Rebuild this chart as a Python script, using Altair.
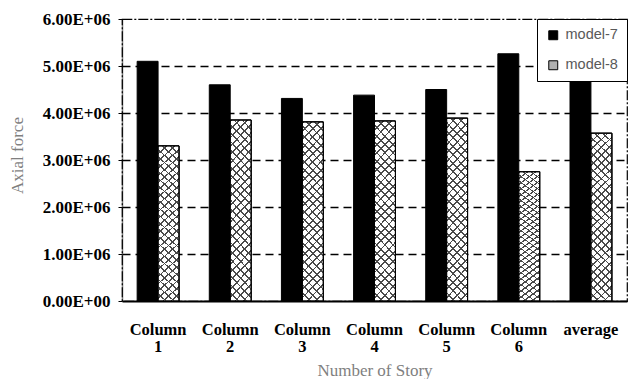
import altair as alt
import pandas as pd

categories = ["Column 1", "Column 2", "Column 3", "Column 4", "Column 5", "Column 6", "average"]
model7 = [5.10e6, 4.60e6, 4.31e6, 4.38e6, 4.50e6, 5.26e6, 4.69e6]
model8 = [3.30e6, 3.85e6, 3.81e6, 3.83e6, 3.89e6, 2.75e6, 3.57e6]
series = ["model-7", "model-8"]
y_ticks = [0, 1e6, 2e6, 3e6, 4e6, 5e6, 6e6]

rows = []
for c, a, b in zip(categories, model7, model8):
    rows.append({"cat": c, "model": "model-7", "value": a})
    rows.append({"cat": c, "model": "model-8", "value": b})
df = pd.DataFrame(rows)


# hatch pattern approximated with sharp-stop gradients (style only)
def stripes(x1, y1, x2, y2, bg, n=24, line="#4a4a4a", frac=0.22):
    stops = []
    for i in range(n):
        s = i / n
        e = s + frac / n
        stops.append(alt.GradientStop(offset=s, color=line))
        stops.append(alt.GradientStop(offset=e, color=line))
        stops.append(alt.GradientStop(offset=e + 0.0001, color=bg))
        stops.append(alt.GradientStop(offset=(i + 1) / n - 0.0001, color=bg))
    return alt.Gradient(gradient="linear", stops=stops, x1=x1, y1=y1, x2=x2, y2=y2)


ga = 0.133
gb = 1.1
grad_a = stripes(0, 0, ga, gb, "#ffffff")
grad_b = stripes(1, 0, 1 - ga, gb, "rgba(255,255,255,0)")

serif = "Liberation Serif"

x_enc = alt.X(
    "cat:N",
    sort=categories,
    scale=alt.Scale(paddingInner=0.42, paddingOuter=0.21),
    axis=alt.Axis(
        title="Number of Story",
        labelAngle=0,
        labelExpr="split(datum.label, ' ')",
        labelFont=serif,
        labelFontWeight="bold",
        labelFontSize=16.5,
        labelColor="#000000",
        labelLineHeight=17,
        labelPadding=20,
        ticks=False,
        domainColor="#000000",
        domainWidth=2,
        titleFont=serif,
        titleFontWeight="normal",
        titleFontSize=17,
        titleColor="#7f7f7f",
        titleY=69,
        titleBaseline="middle",
        grid=False,
    ),
)

y_enc = alt.Y(
    "value:Q",
    scale=alt.Scale(domain=[0, 6e6], nice=False),
    axis=alt.Axis(
        title="Axial force",
        values=y_ticks,
        labelExpr="datum.value == 0 ? '0.00E+00' : format(datum.value / 1e6, '.2f') + 'E+06'",
        labelFont=serif,
        labelFontWeight="bold",
        labelFontSize=17,
        labelColor="#000000",
        labelPadding=8,
        tickSize=4,
        tickColor="#000000",
        domainColor="#000000",
        domainDash=[1, 1],
        domainWidth=1.5,
        grid=True,
        gridColor="#000000",
        gridDash=[8, 5],
        gridWidth=1.6,
        gridOpacity={"condition": {"test": "datum.value >= 6000000 || datum.value <= 0", "value": 0}, "value": 1},
        titleFont=serif,
        titleFontWeight="normal",
        titleFontSize=17,
        titleColor="#7f7f7f",
        titleX=-96,
        titleY=136,
        titleBaseline="bottom",
        titleAngle=-90,
    ),
)

xoff = alt.XOffset("model:N", scale=alt.Scale(domain=series))

base = alt.Chart(df)

bars = base.mark_bar(stroke="#000000", strokeWidth=1).encode(
    x=x_enc,
    y=y_enc,
    xOffset=xoff,
    color=alt.Color(
        "model:N",
        scale=alt.Scale(domain=series, range=["#000000", "#b0b0b0"]),
        legend=alt.Legend(
            title=None,
            orient="top-right",
            offset=0,
            padding=9,
            strokeColor="#000000",
            fillColor="#ffffff",
            symbolType="square",
            symbolSize=80,
            symbolStrokeColor="#000000",
            symbolStrokeWidth=1,
            symbolOpacity=1,
            labelFont="Liberation Sans",
            labelFontSize=14.5,
            labelColor="#595959",
            labelOffset=5,
            rowPadding=15,
        ),
    ),
)

m8 = base.transform_filter(alt.datum.model == "model-8")
hatch_a = m8.mark_bar(fill=grad_a, stroke="#000000", strokeWidth=1).encode(
    x=alt.X("cat:N", sort=categories), y="value:Q", xOffset=xoff
)
hatch_b = m8.mark_bar(fill=grad_b, stroke="#000000", strokeWidth=1).encode(
    x=alt.X("cat:N", sort=categories), y="value:Q", xOffset=xoff
)

chart = (
    alt.layer(bars, hatch_a, hatch_b)
    .properties(
        width=505,
        height=282,
        autosize=alt.AutoSizeParams(type="none"),
        padding={"left": 114, "top": 11, "right": 2, "bottom": 78},
        background="#ffffff",
    )
    .configure_view(stroke="#000000", strokeWidth=1.2, strokeDash=[10, 2, 2, 2])
)

chart.save("out.html", embed_options={"renderer": "svg", "actions": False})
